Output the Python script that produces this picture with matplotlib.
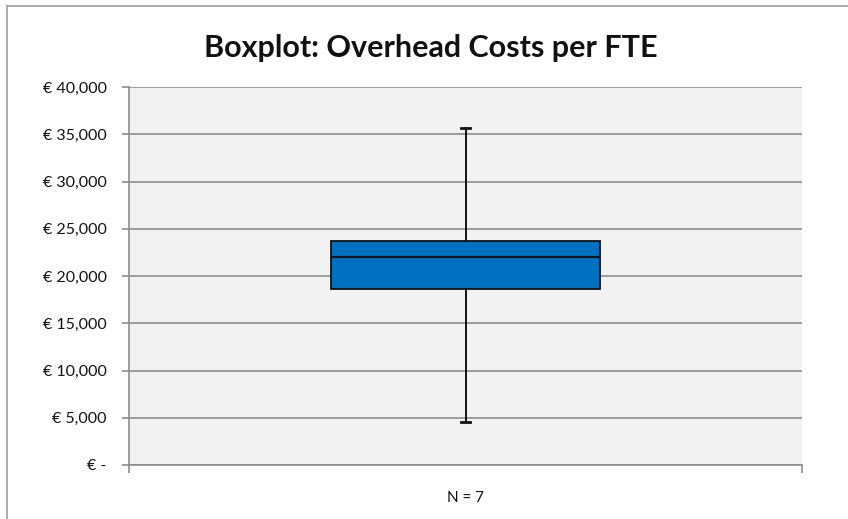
import matplotlib
matplotlib.use("Agg")
import matplotlib.pyplot as plt
from matplotlib.lines import Line2D
from matplotlib.ticker import FuncFormatter

# Summary statistics of overhead costs per FTE (euro)
category = "N = 7"
whisker_low = 4570
q1 = 18575
median = 22058
q3 = 23747
whisker_high = 35700
y_ticks = [0, 5000, 10000, 15000, 20000, 25000, 30000, 35000, 40000]

plt.rcParams["font.family"] = ["Lato", "DejaVu Sans"]

fig = plt.figure(figsize=(8.48, 5.19), dpi=100)
W, H = 848, 519
ax = fig.add_axes([129 / W, 1 - 465 / H, (802 - 129) / W, (465 - 87) / H])

# chart area border (top and left edges)
border_kw = dict(transform=fig.transFigure, color="#a6a6a6", linewidth=1.3)
fig.lines.append(Line2D([7 / W, 1], [1 - 5.5 / H, 1 - 5.5 / H], **border_kw))
fig.lines.append(Line2D([7 / W, 7 / W], [0, 1 - 5.5 / H], **border_kw))

ax.set_facecolor("#f2f2f2")
stats = [dict(label=category, whislo=whisker_low, q1=q1, med=median, q3=q3, whishi=whisker_high, fliers=[])]
ax.bxp(stats, positions=[1], widths=0.4, capwidths=0.013, patch_artist=True, showfliers=False,
       boxprops=dict(facecolor="#0070c0", edgecolor="#111111", linewidth=1.3),
       medianprops=dict(color="#111111", linewidth=1.5),
       whiskerprops=dict(color="#111111", linewidth=1.4),
       capprops=dict(color="#111111", linewidth=2.0), zorder=3)

ax.set_xlim(0.5, 1.5)
ax.set_ylim(0, 40000)
ax.set_yticks(y_ticks)
ax.yaxis.set_major_formatter(FuncFormatter(lambda v, p: "€ -" if v == 0 else f"€ {v:,.0f}"))
ax.grid(axis="y", color="#8c8c8c", linewidth=1.2, zorder=0)
ax.set_axisbelow(True)
for s in ["top", "right"]:
    ax.spines[s].set_visible(False)
for s in ["left", "bottom"]:
    ax.spines[s].set_color("#8c8c8c")
    ax.spines[s].set_linewidth(1.2)
ax.tick_params(axis="y", length=5, color="#8c8c8c", width=1.2, labelsize=11.5, pad=11, labelcolor="#111111")
ax.set_xticks([0.5, 1.5], minor=True)
ax.tick_params(axis="x", which="minor", length=6, color="#8c8c8c", width=1.2)
ax.tick_params(axis="x", which="major", length=0, labelsize=11, pad=19, labelcolor="#111111")
ax.set_xticks([1])
ax.set_xticklabels([category])

fig.text(431 / W, 1 - 48 / H, "Boxplot: Overhead Costs per FTE", ha="center", va="center",
         fontsize=22, fontweight="bold", color="#111111")

fig.savefig("out.png", dpi=100)
